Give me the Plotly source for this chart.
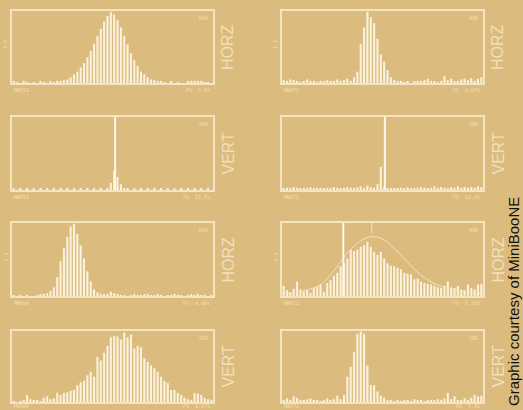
import plotly.graph_objects as go

# ---------------- data ----------------
bins = [i + 0.5 for i in range(60)]

h1 = [3, 1, 0, 3, 1, 0, 1, 0, 2, 1, 0, 2, 1, 3, 2, 4, 5, 8, 12, 16,
      22, 28, 36, 45, 55, 66, 76, 86, 94, 100, 96, 88, 78, 66, 54, 42, 32, 24, 16, 12,
      8, 5, 4, 3, 2, 1, 0, 2, 0, 1, 0, 0, 2, 3, 2, 3, 2, 1, 1, 0]
h2 = [4, 2, 5, 4, 2, 1, 3, 5, 3, 2, 1, 3, 2, 4, 2, 3, 5, 2, 4, 6,
      3, 8, 16, 55, 78, 100, 92, 84, 62, 40, 30, 18, 8, 4, 2, 3, 1, 2, 0, 2,
      3, 2, 4, 6, 3, 2, 1, 2, 10, 4, 6, 2, 3, 5, 6, 4, 7, 3, 6, 8]
h3 = [1.5, 0, 1.5, 0, 1.5, 0, 1.5, 0, 1.5, 0, 1.5, 0, 1.5, 0, 1.5, 0, 1.5, 0, 1.5, 0,
      1.5, 0, 1.5, 0, 1.5, 0, 1.5, 0, 2, 10, 27, 18, 8, 2, 1.5, 0, 1.5, 0, 1.5, 0,
      1.5, 0, 1.5, 0, 1.5, 0, 1.5, 0, 1.5, 0, 1.5, 0, 1.5, 0, 1.5, 0, 1.5, 0, 1.5, 0]
h4 = [2, 3, 2, 4, 3, 2, 3, 2, 4, 2, 3, 2, 2, 3, 2, 4, 3, 2, 3, 4,
      3, 2, 4, 5, 3, 6, 4, 3, 8, 32, 4, 3, 2, 3, 2, 3, 2, 4, 3, 2,
      3, 4, 3, 2, 3, 5, 3, 4, 3, 2, 4, 3, 5, 3, 4, 3, 4, 3, 5, 4]
h5 = [1, 0, 1, 0, 1, 0, 0, 1, 2, 3, 4, 7, 12, 26, 48, 66, 82, 96, 100, 86,
      70, 52, 34, 20, 9, 5, 3, 2, 3, 6, 4, 2, 1, 1, 0, 1, 2, 1, 1, 2,
      3, 1, 1, 2, 1, 0, 1, 1, 2, 1, 1, 0, 1, 2, 1, 3, 1, 1, 0, 1]
h6 = [14, 8, 5, 10, 20, 9, 6, 8, 4, 11, 13, 16, 6, 18, 22, 28, 32, 41, 46, 52,
      64, 62, 64, 68, 70, 75, 68, 61, 57, 61, 52, 45, 42, 41, 39, 37, 32, 31, 30, 23,
      24, 20, 18, 17, 16, 14, 12, 11, 14, 20, 12, 11, 14, 9, 8, 16, 11, 9, 16, 17]
h7 = [1, 0, 1, 2, 10, 4, 3, 2, 1, 6, 8, 4, 5, 13, 10, 13, 14, 16, 17, 24,
      28, 30, 38, 43, 36, 64, 59, 70, 80, 92, 94, 93, 89, 99, 92, 96, 76, 80, 78, 62,
      57, 52, 48, 43, 36, 30, 27, 17, 17, 13, 10, 6, 4, 3, 13, 12, 10, 6, 4, 3]
h8 = [3, 5, 2, 8, 6, 3, 2, 4, 5, 3, 2, 1, 3, 5, 3, 4, 9, 4, 10, 36,
      50, 71, 97, 100, 97, 52, 24, 24, 15, 9, 6, 3, 2, 1, 2, 1, 3, 2, 1, 4,
      2, 3, 1, 2, 3, 2, 4, 3, 5, 13, 4, 8, 3, 2, 5, 3, 6, 10, 8, 9]

fit6_x = [0, 4, 8, 12, 16, 20, 24, 27, 30, 33, 36, 39, 42, 46, 50, 54, 60]
fit6_y = [3, 5, 9, 17, 38, 62, 78, 82, 79, 68, 54, 39, 27, 16, 10, 6, 3]

marker_lines = [None, None, 30.8, 30.7, None, 18.3, None, None]
peak_ticks = [None, None, None, None, None, 26.8, None, None]

mode_labels = ["HORZ", "HORZ", "VERT", "VERT", "HORZ", "HORZ", "VERT", "VERT"]
corner_labels = ["HOR", "HOR", "VER", "VER", "HOR", "HOR", "VER", "VER"]
id_labels = ["MW551", "MW571", "MW551", "MW571", "MW504", "MW572", "MW504", "MW572"]
fs_labels = ["FS  2.6%", "FS  4.67%", "FS  17.5%", "FS  11.4%",
             "FS  4.46%", "FS  5.19%", "FS  1.47%", "FS  5.4%"]
scale_labels = ["7.4", "1.3", "", "", "2.1", "4.7", "", ""]
credit = "Graphic courtesy of MiniBooNE"

hists = [h1, h2, h3, h4, h5, h6, h7, h8]

# ---------------- style ----------------
BG = "#DCBB7E"
LINE = "#F4E4C2"
BAR = "#FBF2DE"
TXT = "#F2E0BA"
W, H = 523, 410

col_px = [(12, 213), (282, 483)]
row_px = [(11, 83), (117, 190), (223, 296), (331, 402)]

fig = go.Figure()
annotations = []
shapes = []
layout_axes = {}

for i, h in enumerate(hists):
    r, c = divmod(i, 2)
    x0, x1 = col_px[c]
    y0, y1 = row_px[r]
    xd = [x0 / W, x1 / W]
    yd = [1 - y1 / H, 1 - y0 / H]
    n = i + 1
    xa = "x" if n == 1 else f"x{n}"
    ya = "y" if n == 1 else f"y{n}"
    xkey = "xaxis" if n == 1 else f"xaxis{n}"
    ykey = "yaxis" if n == 1 else f"yaxis{n}"
    layout_axes[xkey] = dict(domain=xd, range=[0, 60], anchor=ya, showgrid=False,
                             zeroline=False, showticklabels=False, ticks="",
                             showline=True, mirror=True, linecolor=LINE, linewidth=1.5)
    layout_axes[ykey] = dict(domain=yd, range=[0, 101], anchor=xa, showgrid=False,
                             zeroline=False, showticklabels=False, ticks="",
                             showline=True, mirror=True, linecolor=LINE, linewidth=1.5)
    fig.add_trace(go.Bar(x=bins, y=h, xaxis=xa, yaxis=ya, width=0.62,
                         marker=dict(color=BAR, line=dict(width=0)),
                         showlegend=False, hoverinfo="skip"))
    if i == 5:
        fig.add_trace(go.Scatter(x=fit6_x, y=fit6_y, xaxis=xa, yaxis=ya, mode="lines",
                                 line=dict(color=LINE, width=1, shape="spline"),
                                 showlegend=False, hoverinfo="skip"))
    if marker_lines[i] is not None:
        shapes.append(dict(type="line", xref=xa, yref=f"{ya} domain",
                           x0=marker_lines[i], x1=marker_lines[i], y0=0, y1=1,
                           line=dict(color="#FFF8EA", width=2)))
    if peak_ticks[i] is not None:
        shapes.append(dict(type="line", xref=xa, yref=f"{ya} domain",
                           x0=peak_ticks[i], x1=peak_ticks[i], y0=0.86, y1=1,
                           line=dict(color=LINE, width=1)))

    # big rotated mode label
    annotations.append(dict(text=mode_labels[i], x=(x1 + 15) / W, y=1 - ((y0 + y1) / 2) / H,
                            xref="paper", yref="paper", showarrow=False, textangle=-90,
                            xanchor="center", yanchor="middle",
                            font=dict(family="Liberation Sans, Arial", size=16, color=TXT)))
    # corner label
    annotations.append(dict(text=corner_labels[i], x=(x1 - 2) / W, y=1 - (y0 + 2) / H,
                            xref="paper", yref="paper", showarrow=False,
                            xanchor="right", yanchor="top",
                            font=dict(family="DejaVu Sans Mono", size=5, color=TXT)))
    # id / FS labels below the frame (bottom row kept inside the page)
    if y1 + 11 <= H:
        ly, lanchor = 1 - (y1 + 3) / H, "top"
    else:
        ly, lanchor = 0, "bottom"
    annotations.append(dict(text=id_labels[i], x=(x0 + 1) / W, y=ly,
                            xref="paper", yref="paper", showarrow=False,
                            xanchor="left", yanchor=lanchor, borderpad=0,
                            font=dict(family="DejaVu Sans Mono", size=5, color=TXT)))
    annotations.append(dict(text=fs_labels[i], x=(x1 - 2) / W, y=ly,
                            xref="paper", yref="paper", showarrow=False,
                            xanchor="right", yanchor=lanchor, borderpad=0,
                            font=dict(family="DejaVu Sans Mono", size=5, color=TXT)))
    if scale_labels[i]:
        annotations.append(dict(text=scale_labels[i], x=(x0 - 7) / W,
                                y=1 - ((y0 + y1) / 2 - 2) / H,
                                xref="paper", yref="paper", showarrow=False, textangle=-90,
                                xanchor="center", yanchor="middle",
                                font=dict(family="DejaVu Sans Mono", size=5, color=TXT)))

annotations.append(dict(text=credit, x=513 / W, y=1 - 302 / H, xref="paper", yref="paper",
                        showarrow=False, textangle=-90, xanchor="center", yanchor="middle",
                        borderpad=0,
                        font=dict(family="Liberation Sans, Arial", size=15, color="#111111")))

fig.update_layout(width=W, height=H, margin=dict(l=0, r=0, t=0, b=0, pad=0),
                  paper_bgcolor=BG, plot_bgcolor=BG, bargap=0.35,
                  annotations=annotations, shapes=shapes, **layout_axes)

fig.write_html("out.html", config={"displayModeBar": False},
               post_script="document.body.style.margin='0';document.body.style.overflow='hidden';")
